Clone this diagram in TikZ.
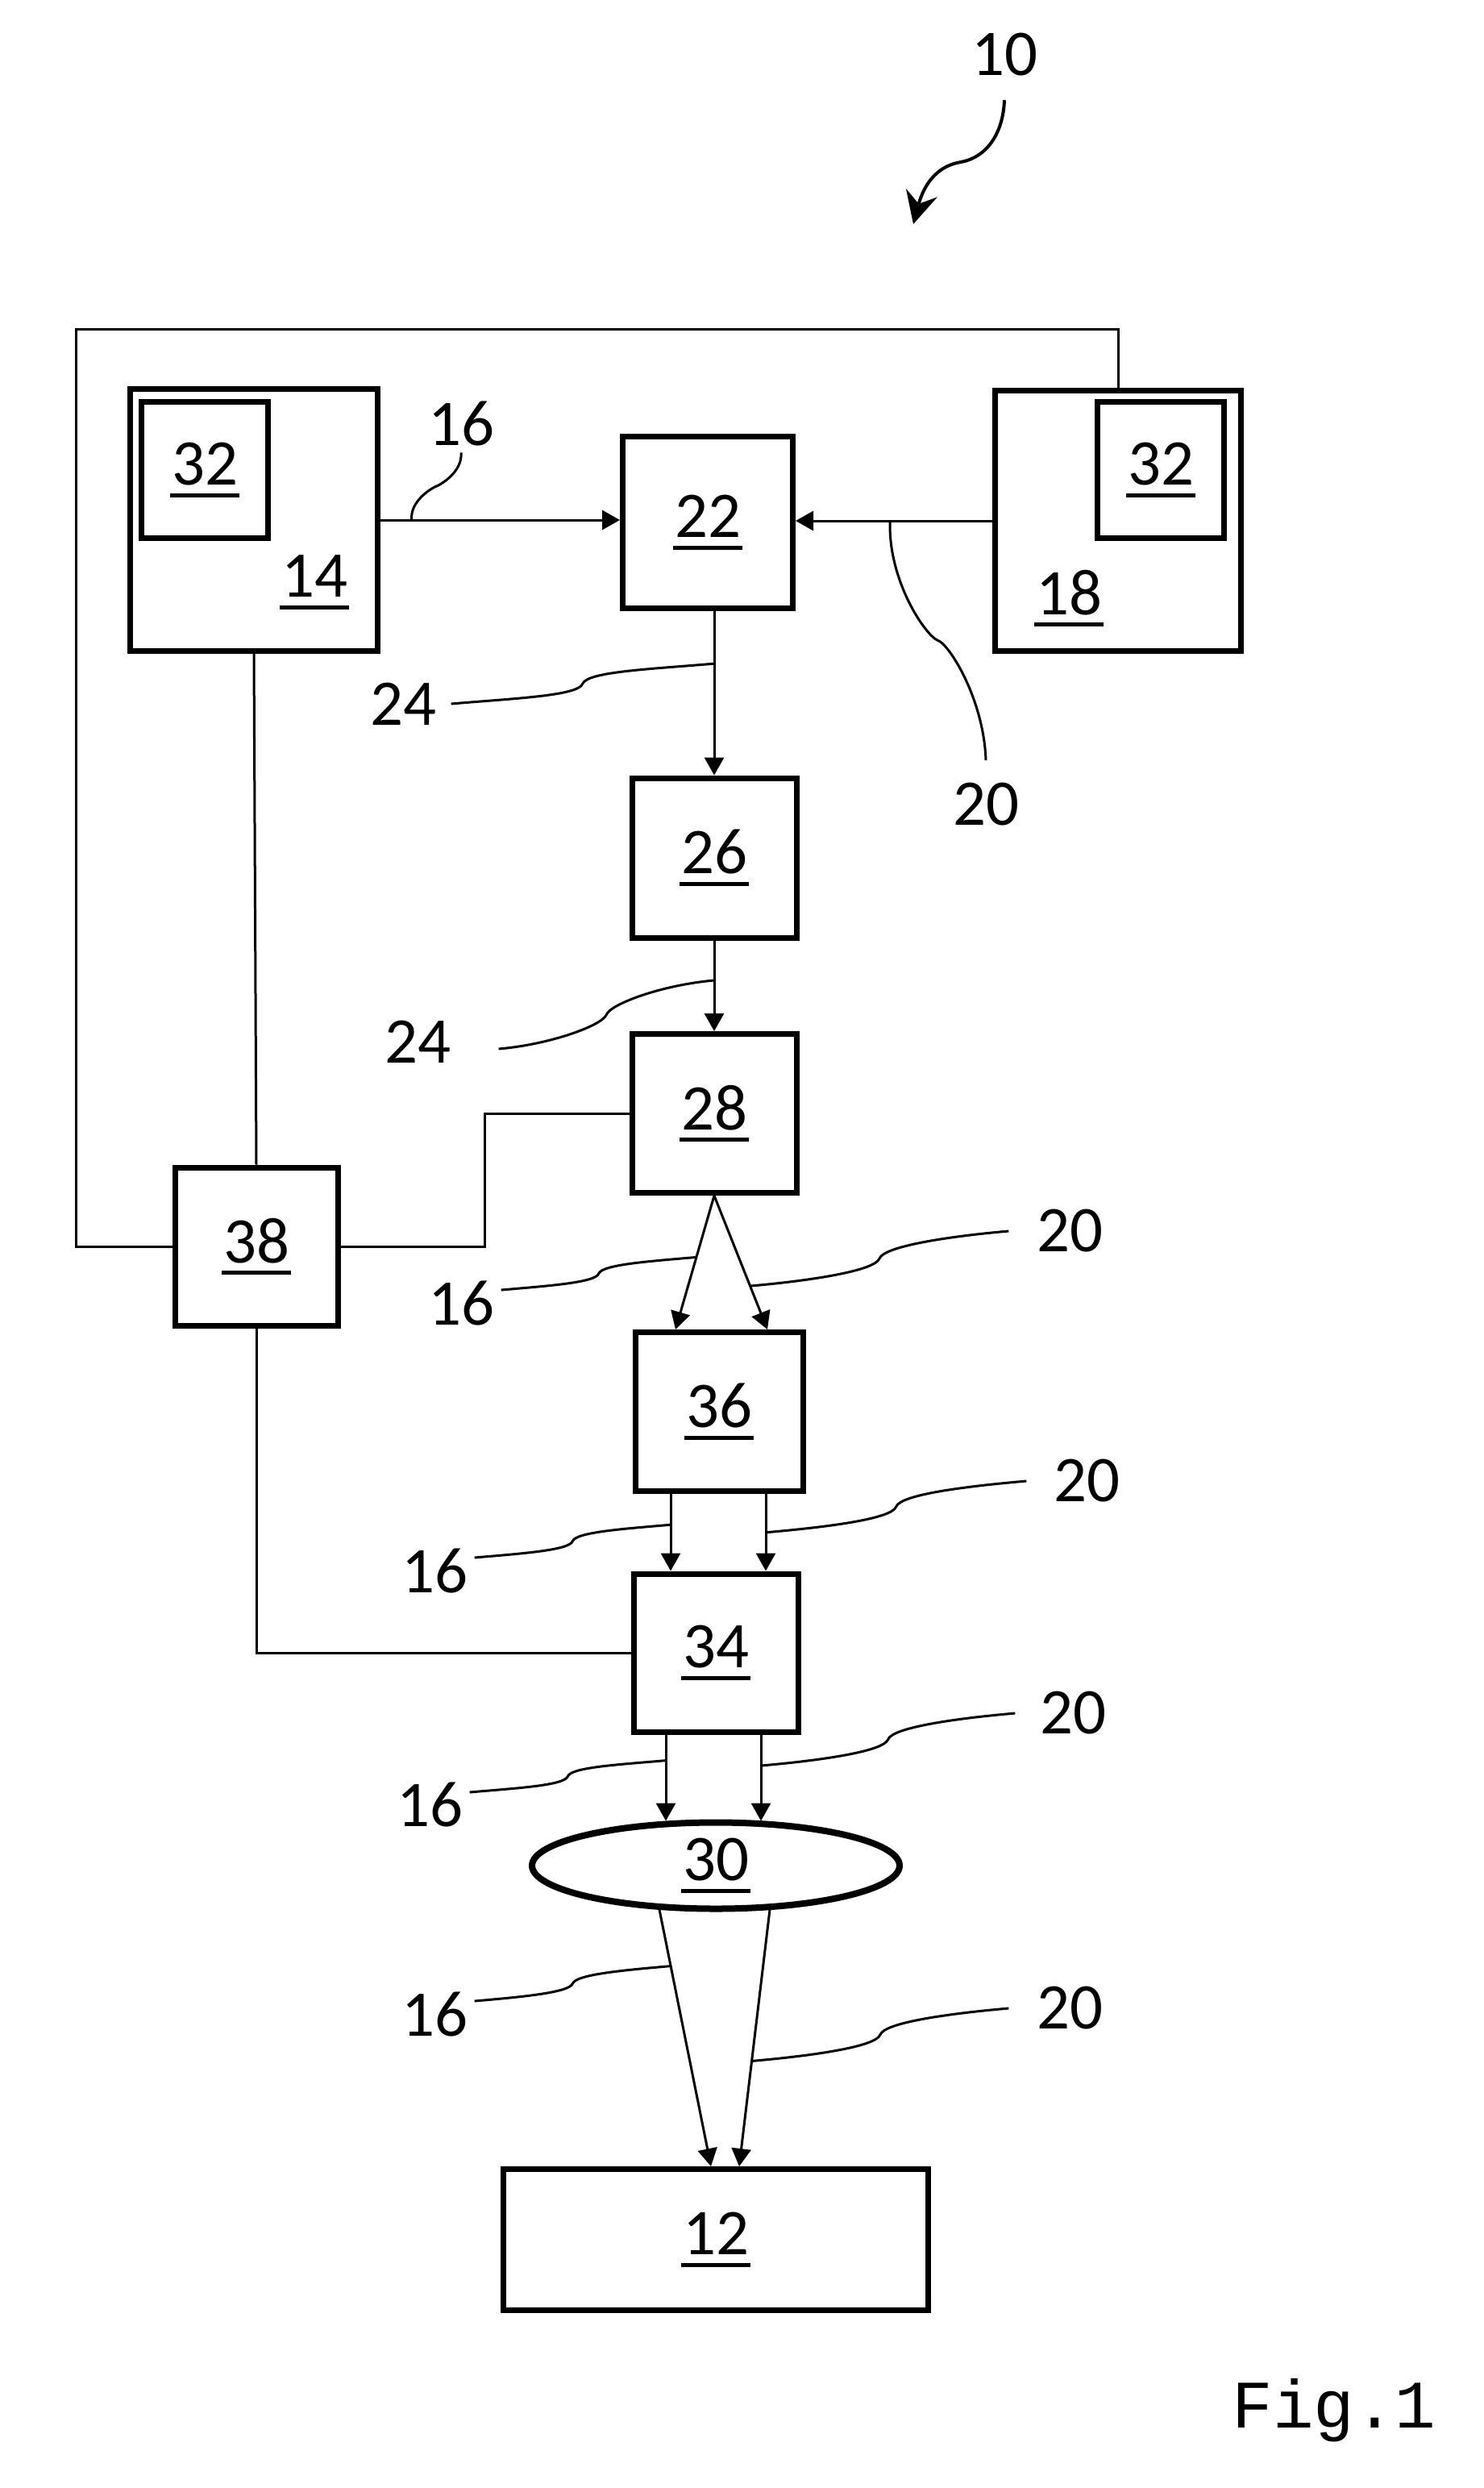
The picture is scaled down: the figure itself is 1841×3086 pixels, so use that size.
\documentclass[tikz,border=0pt]{standalone}
\usepackage{fontspec}
\setmainfont{Carlito}
\newfontfamily\figfont{Liberation Mono}
\usetikzlibrary{arrows.meta,calc,shapes.geometric}
\newsavebox\numbox
\newcommand{\ulnum}[1]{\sbox\numbox{#1}\rlap{\kern-0.25mm\rule[-1.5mm]{\dimexpr\wd\numbox+0.5mm\relax}{0.5mm}}\usebox\numbox}
\def\squiggle(#1)(#2){\draw[lead] (#1) to[out=5,in=-110,out looseness=1.2,in looseness=0.25] ($(#1)!.5!(#2)$) to[out=70,in=185,out looseness=0.25,in looseness=1.2] (#2);}

\tikzset{
  unit/.style={draw, line width=0.7mm, inner sep=0pt},
  lens/.style={draw, ellipse, line width=0.8mm, inner sep=0pt},
  num/.style={inner sep=0pt},
  callout/.style={inner sep=0.8mm},
  flow/.style={line width=0.3mm, -{Triangle[length=2.2mm,width=2.4mm]}},
  wire/.style={line width=0.3mm},
  lead/.style={line width=0.3mm}
}

\begin{document}
\begin{tikzpicture}[x=0.1mm, y=0.1mm, font=\fontsize{23}{27}\selectfont]
		%%%%% START %%%%%
		\useasboundingbox (0,0) rectangle (1841,-3086);
		
		% system reference
		\node[callout] (t10) at (1246,-68) {10};
		\coordinate (sys) at (1133,-278);
		\draw[line width=0.4mm, -{Stealth[length=4mm,width=4mm,inset=1.4mm]}] ([yshift=-2.1mm]t10.south) to[out=-92,in=10] ++(-55,-77) to[out=190,in=75] (sys);
		
		% sources
		\node[unit, minimum width=30.7mm, minimum height=32.5mm] (b14) at (315,-645) {};
		\node[unit, minimum width=15.7mm, minimum height=16.9mm] (b32a) at (254,-583) {\ulnum{32}};
		\node[num] (n14) at (390,-722) {\ulnum{14}};
		
		\node[unit, minimum width=30.5mm, minimum height=32.3mm] (b18) at (1387,-646) {};
		\node[unit, minimum width=15.7mm, minimum height=16.9mm] (b32b) at (1440,-583) {\ulnum{32}};
		\node[num] (n18) at (1326,-742) {\ulnum{18}};
		
		% main chain
		\node[unit, minimum width=21.1mm, minimum height=21.3mm] (b22) at (878,-648) {\ulnum{22}};
		\node[unit, minimum width=20.4mm, minimum height=19.8mm] (b26) at (886,-1064) {\ulnum{26}};
		\node[unit, minimum width=20.4mm, minimum height=19.7mm] (b28) at (886,-1381) {\ulnum{28}};
		\node[unit, minimum width=20.2mm, minimum height=19.6mm] (b38) at (318,-1546) {\ulnum{38}};
		\node[unit, minimum width=20.8mm, minimum height=19.7mm] (b36) at (892,-1751) {\ulnum{36}};
		\node[unit, minimum width=20.4mm, minimum height=19.6mm] (b34) at (888,-2050) {\ulnum{34}};
		\node[lens, minimum width=45.6mm, minimum height=10.7mm] (e30) at (888,-2314) {\ulnum{30}};
		\node[unit, minimum width=52.7mm, minimum height=17.5mm] (b12) at (888,-2778) {\ulnum{12}};
		
		% beams
		\draw[flow] (b14.east) -- coordinate[pos=.13] (p16a) (b14.east -| b22.west);
		\draw[flow] (b18.west) -- coordinate[pos=.52] (p20a) (b18.west -| b22.east);
		\draw[flow] (b22.south -| b26.north) -- coordinate[pos=.32] (p24a) (b26.north);
		\draw[flow] (b26.south) -- coordinate[pos=.44] (p24b) (b28.north);
		
		\draw[flow] (b28.south) -- coordinate[pos=.46] (p16b) ($(b36.north)+(-54,0)$);
		\draw[flow] (b28.south) -- coordinate[pos=.675] (p20b) ($(b36.north)+(60,0)$);
		
		\draw[flow] ($(b36.south)+(-60,0)$) -- coordinate[pos=.4] (p16c) ($(b34.north)+(-56,0)$);
		\draw[flow] ($(b36.south)+(58,0)$) -- coordinate[pos=.5] (p20c) ($(b34.north)+(62,0)$);
		
		\draw[flow] ($(b34.south)+(-62,0)$) -- coordinate[pos=.3] (p16d) ($(e30.north)+(-62,-2)$);
		\draw[flow] ($(b34.south)+(56,0)$) -- coordinate[pos=.36] (p20d) ($(e30.north)+(56,-2)$);
		
		\draw[flow] ($(e30.south)+(-70,3)$) -- coordinate[pos=.22] (p16e) ($(b12.north)+(-6,0)$);
		\draw[flow] ($(e30.south)+(67,3)$) -- coordinate[pos=.59] (p20e) ($(b12.north)+(29,0)$);
		
		% control lines
		\coordinate (loop) at (94,-408);
		\coordinate (jog) at (601,-1460);
		\draw[wire] (b18.north) |- (loop) |- (b38.west);
		\draw[wire] (b14.south) -- (b38.north);
		\draw[wire] (b38.east) -| (jog) |- (b28.west);
		\draw[wire] (b38.south) |- (b34.west);
		
		% callouts
		\node[callout] (t16a) at (572,-525) {16};
		\node[callout] (t20a) at (1223,-998) {20};
		\node[callout] (t24a) at (500,-873) {24};
		\node[callout] (t24b) at (518,-1292) {24};
		\node[callout] (t16b) at (572,-1616) {16};
		\node[callout] (t20b) at (1327,-1527) {20};
		\node[callout] (t16c) at (539,-1948) {16};
		\node[callout] (t20c) at (1348,-1837) {20};
		\node[callout] (t16d) at (533,-2238) {16};
		\node[callout] (t20d) at (1331,-2125) {20};
		\node[callout] (t16e) at (539,-2498) {16};
		\node[callout] (t20e) at (1327,-2491) {20};
		
		\draw[lead] (t16a.south) to[out=-85,in=20,out looseness=1.2,in looseness=0.25] ($(t16a.south)!.5!(p16a)$) to[out=200,in=95,out looseness=0.25,in looseness=1.2] (p16a);
		\draw[lead] (p20a) to[out=-92,in=160,out looseness=1.2,in looseness=0.25] ($(p20a)!.5!([yshift=2mm]t20a.north)$) to[out=-20,in=92,out looseness=0.25,in looseness=1.2] ([yshift=2mm]t20a.north);
		\squiggle([xshift=1mm]t24a.east)(p24a)
		\squiggle([xshift=5.1mm,yshift=-0.9mm]t24b.east)(p24b)
		\squiggle([yshift=1.6mm]t16b.east)(p16b)
		\squiggle(p20b)([xshift=-2.6mm]t20b.west)
		\squiggle([yshift=1.6mm]t16c.east)(p16c)
		\squiggle(p20c)([xshift=-2.5mm]t20c.west)
		\squiggle([yshift=1.5mm]t16d.east)(p16d)
		\squiggle(p20d)([xshift=-2.2mm]t20d.west)
		\squiggle([yshift=1.6mm]t16e.east)(p16e)
		\squiggle(p20e)([xshift=-2.6mm]t20e.west)
		
		\node[font=\figfont\fontsize{24}{28}\selectfont, anchor=base] (fig) at (1655,-3011) {Fig.1};
		%%%%% END %%%%%
\end{tikzpicture}
\end{document}
